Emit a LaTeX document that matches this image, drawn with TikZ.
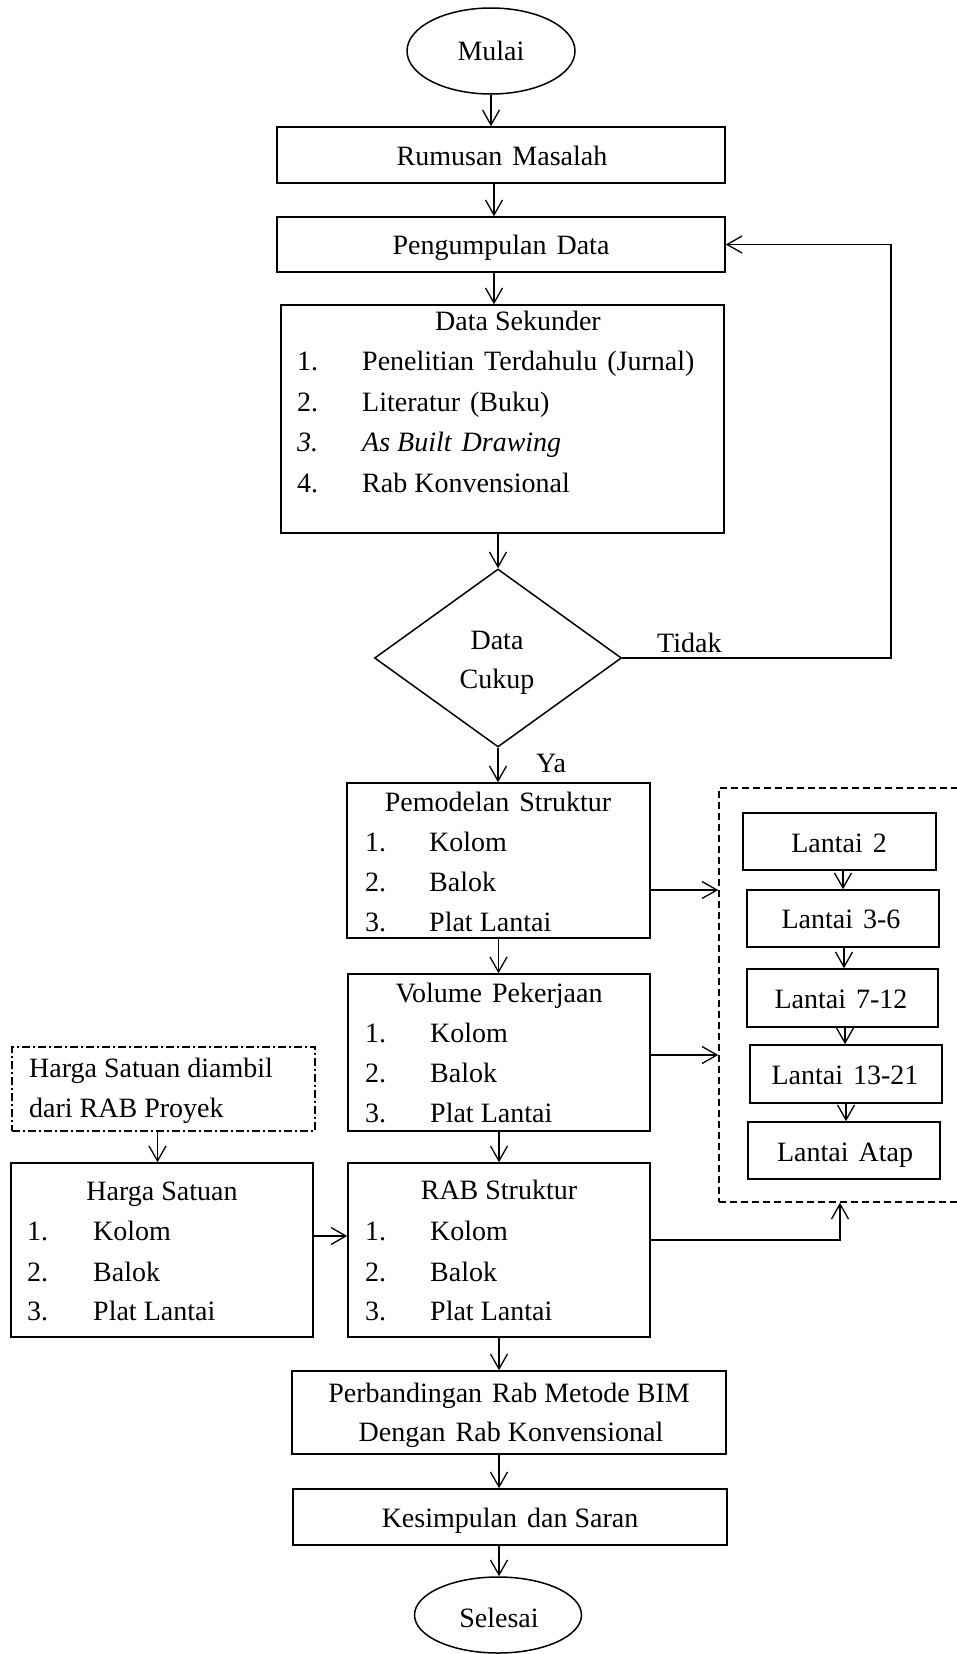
\documentclass[tikz,border=0pt]{standalone}
\usepackage{fontspec}
\setmainfont{Liberation Serif}
\usetikzlibrary{shapes.geometric,arrows.meta}
\newcommand\ws{\hspace{10pt}}
\begin{document}
\begin{tikzpicture}[x=1pt,y=-1pt,
  every node/.style={font=\fontsize{28}{34}\selectfont},
  box/.style={draw, line width=1.5pt, inner sep=0pt, rectangle},
  arr/.style={line width=1.5pt, -{Straight Barb[length=15pt,width=17pt,line width=1.3pt]}},
  tc/.style={inner sep=0pt, anchor=base},
  tl/.style={inner sep=0pt, anchor=base west},
  grpbox/.style={draw, line width=1.4pt, dash pattern=on 7pt off 4pt, inner sep=0pt, rectangle},
  notebox/.style={draw, line width=1.4pt, dash pattern=on 8pt off 3pt on 2pt off 3pt, inner sep=0pt, rectangle},
]
\useasboundingbox (0,0) rectangle (956,1654);

% start
\node[box, ellipse, minimum width=168pt, minimum height=86pt] (mulai) at (491,51) {};
\node[tc] (tmulai) at (491,61) {Mulai};

\node[box, minimum width=448pt, minimum height=56pt] (rum) at (501,155) {};
\node[tc] (trum) at (502,165) {Rumusan\ws Masalah};

\node[box, minimum width=448pt, minimum height=55pt] (peng) at (501,244.5) {};
\node[tc] (tpeng) at (501,254) {Pengumpulan\ws Data};

% data sekunder
\node[box, minimum width=443pt, minimum height=228pt] (dsek) at (502.5,419) {};
\node[tc] (tdsek) at (518,330) {Data Sekunder};
\node[tl] (dn1) at (297,370) {1.};
\node[tl] (di1) at (362,370) {Penelitian\ws Terdahulu\ws (Jurnal)};
\node[tl] (dn2) at (297,411) {2.};
\node[tl] (di2) at (362,411) {Literatur\ws (Buku)};
\node[tl] (dn3) at (297,451) {\itshape 3.};
\node[tl] (di3) at (362,451) {\itshape As Built\ws Drawing};
\node[tl] (dn4) at (297,492) {4.};
\node[tl] (di4) at (362,492) {Rab Konvensional};

% decision
\node[box, diamond, minimum width=247pt, minimum height=178pt] (cek) at (498,658) {};
\node[tc] (tdata) at (497,649) {Data};
\node[tc] (tcukup) at (497,688) {Cukup};
\node[tl] (ttidak) at (657,652) {Tidak};
\node[tl] (tya) at (536,772) {Ya};

% pemodelan
\node[box, minimum width=303pt, minimum height=155pt] (pem) at (498.5,860.5) {};
\node[tc] (tpem) at (498,811) {Pemodelan\ws Struktur};
\node[tl] (pn1) at (365,851) {1.};
\node[tl] (pi1) at (429,851) {Kolom};
\node[tl] (pn2) at (365,891) {2.};
\node[tl] (pi2) at (429,891) {Balok};
\node[tl] (pn3) at (365,931) {3.};
\node[tl] (pi3) at (429,931) {Plat Lantai};

% volume
\node[box, minimum width=302pt, minimum height=157pt] (vol) at (499,1052.5) {};
\node[tc] (tvol) at (499,1002) {Volume\ws Pekerjaan};
\node[tl] (vn1) at (365,1042) {1.};
\node[tl] (vi1) at (430,1042) {Kolom};
\node[tl] (vn2) at (365,1082) {2.};
\node[tl] (vi2) at (430,1082) {Balok};
\node[tl] (vn3) at (365,1122) {3.};
\node[tl] (vi3) at (430,1122) {Plat Lantai};

% rab struktur
\node[box, minimum width=302pt, minimum height=174pt] (rab) at (499,1250) {};
\node[tc] (trab) at (499,1199) {RAB Struktur};
\node[tl] (rn1) at (365,1240) {1.};
\node[tl] (ri1) at (430,1240) {Kolom};
\node[tl] (rn2) at (365,1281) {2.};
\node[tl] (ri2) at (430,1281) {Balok};
\node[tl] (rn3) at (365,1320) {3.};
\node[tl] (ri3) at (430,1320) {Plat Lantai};

% harga satuan note
\node[notebox, minimum width=303pt, minimum height=84pt] (hnote) at (163.5,1089) {};
\node[tl] (thn1) at (29,1077) {Harga Satuan diambil};
\node[tl] (thn2) at (29,1117) {dari RAB Proyek};

% harga satuan
\node[box, minimum width=302pt, minimum height=174pt] (harga) at (162,1250) {};
\node[tc] (tharga) at (162,1200) {Harga Satuan};
\node[tl] (hn1) at (27,1240) {1.};
\node[tl] (hi1) at (93,1240) {Kolom};
\node[tl] (hn2) at (27,1281) {2.};
\node[tl] (hi2) at (93,1281) {Balok};
\node[tl] (hn3) at (27,1320) {3.};
\node[tl] (hi3) at (93,1320) {Plat Lantai};

% perbandingan
\node[box, minimum width=434pt, minimum height=83pt] (perb) at (509,1412.5) {};
\node[tc] (tperb1) at (509,1402) {Perbandingan\ws Rab Metode BIM};
\node[tc] (tperb2) at (511,1441) {Dengan\ws Rab Konvensional};

% kesimpulan
\node[box, minimum width=434pt, minimum height=56pt] (kes) at (510,1517) {};
\node[tc] (tkes) at (510,1527) {Kesimpulan\ws dan Saran};

% selesai
\node[box, ellipse, minimum width=167pt, minimum height=76pt] (selesai) at (498,1615) {};
\node[tc] (tsel) at (499,1627) {Selesai};

% lantai group
\node[grpbox, minimum width=281pt, minimum height=414pt] (grp) at (859.5,995) {};
\node[box, minimum width=193pt, minimum height=57pt] (l2) at (839.5,841.5) {};
\node[tc] (tl2) at (839,852) {Lantai\ws 2};
\node[box, minimum width=192pt, minimum height=57pt] (l36) at (843,918.5) {};
\node[tc] (tl36) at (841,928) {Lantai\ws 3-6};
\node[box, minimum width=191pt, minimum height=58pt] (l712) at (842.5,998) {};
\node[tc] (tl712) at (841,1008) {Lantai\ws 7-12};
\node[box, minimum width=192pt, minimum height=58pt] (l1321) at (846,1074) {};
\node[tc] (tl1321) at (845,1084) {Lantai\ws 13-21};
\node[box, minimum width=192pt, minimum height=57pt] (latap) at (844,1150.5) {};
\node[tc] (tlatap) at (845,1161) {Lantai\ws Atap};

% main arrows
\draw[arr] (mulai.south) -- (mulai.south |- rum.north);
\draw[arr] ([xshift=-7pt]rum.south) -- ([xshift=-7pt]rum.south |- peng.north);
\draw[arr] ([xshift=-7pt]peng.south) -- ([xshift=-7pt]peng.south |- dsek.north);
\draw[arr] ([xshift=-4.5pt]dsek.south) -- ([xshift=-4.5pt]dsek.south |- cek.north);
\draw[arr] (cek.south) -- (cek.south |- pem.north);
\draw[arr] (pem.south) -- (pem.south |- vol.north);
\draw[arr] (vol.south) -- (vol.south |- rab.north);
\draw[arr] (rab.south) -- (rab.south |- perb.north);
\draw[arr] ([xshift=-10pt]perb.south) -- ([xshift=-10pt]perb.south |- kes.north);
\draw[arr] ([xshift=-11pt]kes.south) -- ([xshift=-11pt]kes.south |- selesai.north);

% feedback
\coordinate (fb) at (891,658);
\draw[arr] (cek.east) -- (fb) -- (fb |- peng.east) -- (peng.east);

% to lantai group
\draw[arr] ([yshift=-29.5pt]pem.east) -- ([yshift=-29.5pt]pem.east -| grp.west);
\draw[arr] ([yshift=-2.5pt]vol.east) -- ([yshift=-2.5pt]vol.east -| grp.west);
\coordinate (rg) at (840,1240);
\draw[arr] (rab.east |- rg) -- (rg) -- (rg |- grp.south);

% harga
\draw[arr] ([xshift=-6pt]hnote.south) -- ([xshift=-6pt]hnote.south |- harga.north);
\coordinate (hr) at (330,1236);
\draw[arr] (harga.east |- hr) -- (rab.west |- hr);

% lantai chain
\draw[arr] ([xshift=3.5pt]l2.south) -- ([xshift=3.5pt]l2.south |- l36.north);
\draw[arr] ([xshift=1pt]l36.south) -- ([xshift=1pt]l36.south |- l712.north);
\draw[arr] ([xshift=2.5pt]l712.south) -- ([xshift=2.5pt]l712.south |- l1321.north);
\draw[arr] (l1321.south) -- (l1321.south |- latap.north);
\end{tikzpicture}
\end{document}
